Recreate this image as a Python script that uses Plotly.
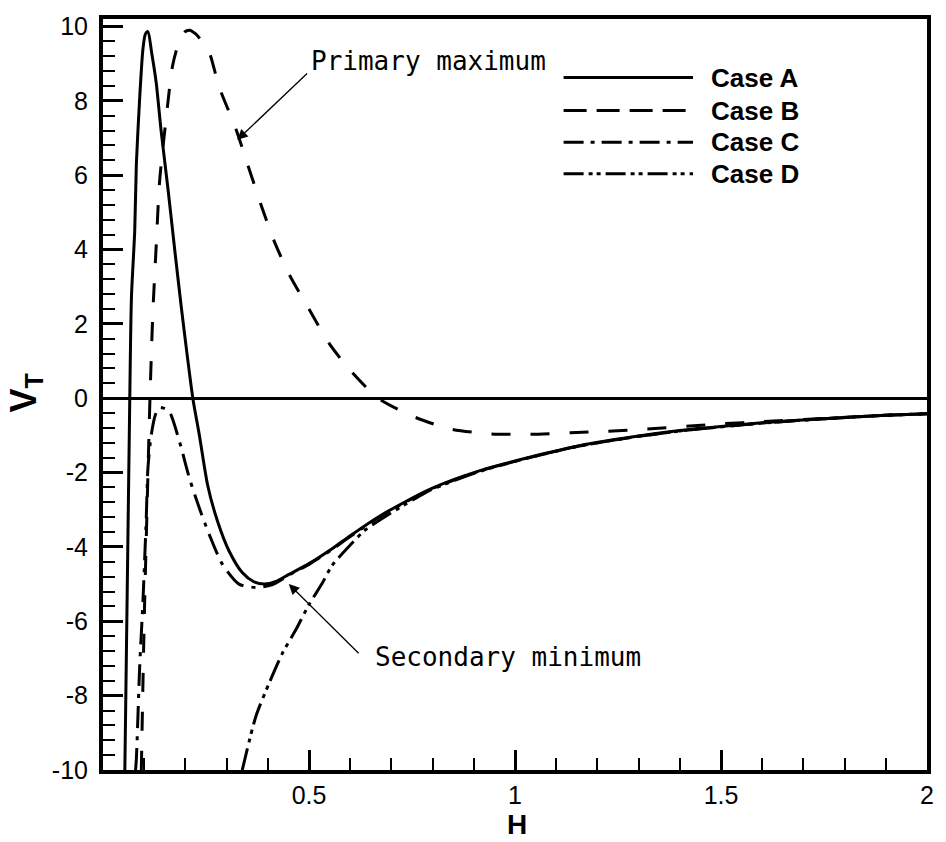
import plotly.graph_objects as go

# ---------------- data ----------------
case_a_h = [0.053, 0.059, 0.065, 0.069, 0.077, 0.081, 0.089, 0.097, 0.103, 0.109,
            0.118, 0.129, 0.141, 0.158, 0.174, 0.190, 0.205, 0.218, 0.234, 0.254,
            0.278, 0.306, 0.338, 0.365, 0.391, 0.420, 0.451, 0.500, 0.556, 0.600,
            0.676, 0.797, 0.917, 1.038, 1.159, 1.279, 1.400, 1.500, 1.600, 1.750,
            1.900, 2.000]
case_a_v = [-10.0, -5.0, 0.0, 2.7, 4.5, 6.3, 8.07, 9.4, 9.8, 9.86,
            9.3, 8.5, 7.2, 5.6, 4.0, 2.45, 1.1, 0.0, -1.0, -2.34,
            -3.31, -4.11, -4.69, -4.93, -5.0, -4.93, -4.74, -4.45, -4.05, -3.7,
            -3.14, -2.43, -1.94, -1.58, -1.27, -1.05, -0.87, -0.76, -0.66, -0.55,
            -0.46, -0.42]

case_b_h = [0.093, 0.100, 0.108, 0.114, 0.121, 0.129, 0.1375, 0.154, 0.169, 0.185,
            0.198, 0.210, 0.225, 0.240, 0.258, 0.282, 0.322, 0.351, 0.383, 0.415,
            0.451, 0.500, 0.548, 0.600, 0.668, 0.757, 0.845, 0.942, 1.037, 1.134,
            1.223, 1.320, 1.424, 1.500, 1.600, 1.750, 1.900, 2.000]
case_b_v = [-10.0, -6.0, -2.5, 0.0, 2.3, 4.07, 5.85, 7.6, 8.95, 9.6,
            9.85, 9.9, 9.8, 9.6, 9.3, 8.37, 7.26, 6.29, 5.22, 4.24,
            3.35, 2.4, 1.49, 0.75, 0.0, -0.51, -0.83, -0.96, -0.97, -0.93,
            -0.89, -0.83, -0.75, -0.69, -0.63, -0.54, -0.46, -0.42]

case_c_h = [0.079, 0.081, 0.089, 0.097, 0.105, 0.109, 0.117, 0.127, 0.1375, 0.150,
            0.162, 0.186, 0.210, 0.234, 0.258, 0.290, 0.330, 0.371, 0.410, 0.451,
            0.500, 0.556, 0.600, 0.676, 0.797, 0.917, 1.038, 1.159, 1.279, 1.400,
            1.500, 1.600, 1.750, 1.900, 2.000]
case_c_v = [-10.0, -9.7, -7.23, -5.45, -3.23, -1.89, -1.0, -0.45, -0.25, -0.28,
            -0.38, -1.18, -2.16, -2.96, -3.67, -4.47, -5.0, -5.09, -5.02, -4.76,
            -4.47, -4.07, -3.72, -3.16, -2.44, -1.95, -1.59, -1.28, -1.06, -0.88,
            -0.77, -0.67, -0.55, -0.46, -0.42]

case_d_h = [0.338, 0.371, 0.403, 0.435, 0.467, 0.500, 0.531, 0.556, 0.600, 0.636,
            0.700, 0.750, 0.797, 0.917, 1.038, 1.159, 1.279, 1.400, 1.500, 1.600,
            1.750, 1.900, 2.000]
case_d_v = [-10.0, -8.56, -7.67, -6.87, -6.25, -5.55, -5.0, -4.5, -3.95, -3.55,
            -3.08, -2.75, -2.46, -1.96, -1.59, -1.28, -1.06, -0.88, -0.77, -0.67,
            -0.55, -0.46, -0.42]

series_names = ["Case A", "Case B", "Case C", "Case D"]
x_tick_vals = [0.5, 1, 1.5, 2]
x_tick_text = ["0.5", "1", "1.5", "2"]
y_tick_vals = [-10, -8, -6, -4, -2, 0, 2, 4, 6, 8, 10]
y_tick_text = ["-10", "-8", "-6", "-4", "-2", "0", "2", "4", "6", "8", "10"]

# ---------------- styles ----------------
curve_dash = ["solid", "19px,20px", "22px,8px,4px,8px", "22px,6px,4px,5px,4px,6px"]
legend_dash = ["solid", "23px,10px", "20px,7px,4px,7px", "20px,5px,4px,4px,4px,5px"]
FONT = "Liberation Sans, Arial, sans-serif"
MONO = "DejaVu Sans Mono, Liberation Mono, monospace"

fig = go.Figure()
for name, hx, vy, dash in zip(series_names,
                              [case_a_h, case_b_h, case_c_h, case_d_h],
                              [case_a_v, case_b_v, case_c_v, case_d_v],
                              curve_dash):
    fig.add_trace(go.Scatter(x=hx, y=vy, mode="lines", name=name, showlegend=False,
                             line=dict(color="black", width=3, dash=dash,
                                       shape="spline", smoothing=0.7),
                             cliponaxis=True))

# ---------------- custom legend (long line samples, as in the original) -------
leg_x0, leg_x1, leg_tx = 0.559, 0.716, 0.736
leg_y = [0.922, 0.878, 0.836, 0.794]
shapes = []
annotations = []
for name, dash, yy in zip(series_names, legend_dash, leg_y):
    shapes.append(dict(type="line", xref="paper", yref="paper",
                       x0=leg_x0, x1=leg_x1, y0=yy, y1=yy,
                       line=dict(color="black", width=3, dash=dash)))
    annotations.append(dict(xref="paper", yref="paper", x=leg_tx, y=yy,
                            xanchor="left", yanchor="middle", showarrow=False,
                            text="<b>" + name + "</b>",
                            font=dict(family=FONT, size=26, color="black")))

# ---------------- callouts ----------------
annotations += [
    dict(x=0.326, y=6.95, ax=0.499, ay=8.77, xref="x", yref="y", axref="x", ayref="y",
         text="", showarrow=True, arrowhead=2, arrowsize=1.6, arrowwidth=1.3,
         arrowcolor="black", standoff=0),
    dict(x=0.499, y=9.06, xref="x", yref="y", xanchor="left", yanchor="middle",
         text="Primary maximum", showarrow=False,
         font=dict(family=MONO, size=26, color="black")),
    dict(x=0.451, y=-5.0, ax=0.624, ay=-6.9, xref="x", yref="y", axref="x", ayref="y",
         text="", showarrow=True, arrowhead=2, arrowsize=1.6, arrowwidth=1.3,
         arrowcolor="black", standoff=0),
    dict(x=0.656, y=-6.97, xref="x", yref="y", xanchor="left", yanchor="middle",
         text="Secondary minimum", showarrow=False,
         font=dict(family=MONO, size=26, color="black")),
    # axis titles
    dict(xref="paper", yref="paper", x=-0.094, y=0.502, xanchor="center", yanchor="middle",
         text="<b>V<sub>T</sub></b>", textangle=-90, showarrow=False,
         font=dict(family=FONT, size=36, color="black")),
    dict(xref="paper", yref="paper", x=0.503, y=-0.0945, xanchor="center", yanchor="bottom",
         text="<b>H</b>", showarrow=False, borderpad=0,
         font=dict(family=FONT, size=28, color="black")),
]

axis_common = dict(showline=True, linewidth=4, linecolor="black", mirror=True,
                   ticks="inside", ticklen=20, tickwidth=3, tickcolor="black",
                   showgrid=False, tickfont=dict(family=FONT, size=25, color="black"))

fig.update_layout(
    width=946, height=842,
    margin=dict(l=103, r=14, t=13, b=72),
    paper_bgcolor="white", plot_bgcolor="white",
    font=dict(family=FONT, color="black"),
    shapes=shapes, annotations=annotations,
    xaxis=dict(range=[0, 2], tickmode="array", tickvals=x_tick_vals, ticktext=x_tick_text,
               zeroline=False, ticklabelstandoff=0,
               minor=dict(ticks="inside", ticklen=12, tickwidth=2, tickcolor="black",
                          dtick=0.1, tick0=0, showgrid=False),
               **axis_common),
    yaxis=dict(range=[-10, 10.2], tickmode="array", tickvals=y_tick_vals, ticktext=y_tick_text,
               zeroline=True, zerolinecolor="black", zerolinewidth=2.5, ticklabelstandoff=6,
               minor=dict(ticks="inside", ticklen=12, tickwidth=2, tickcolor="black",
                          dtick=0.4, tick0=-10, showgrid=False),
               **axis_common),
    showlegend=False,
)

fig.write_html("out.html")
